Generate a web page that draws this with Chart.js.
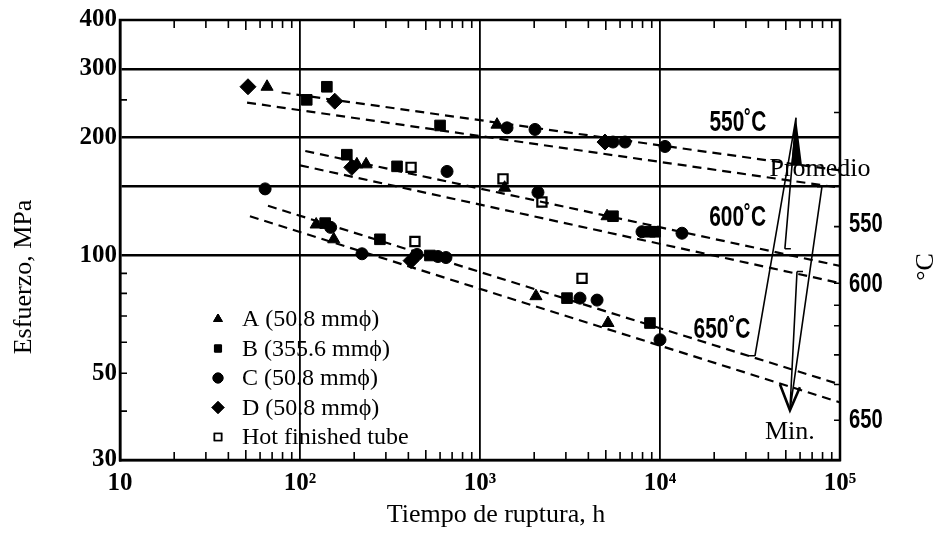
<!DOCTYPE html>
<html>
<head>
<meta charset="utf-8">
<script src="https://cdn.jsdelivr.net/npm/chart.js@4.4.1/dist/chart.umd.min.js"></script>
<style>
html, body { margin: 0; padding: 0; background: #fff; }
canvas { display: block; }
</style>
</head>
<body>
<canvas id="myChart" width="936" height="533"></canvas>
<script>
// rupture time (h) / stress (MPa)
const aTime   = [65.6, 1243, 207, 233, 1370, 5080, 123, 154, 424, 2046, 5140];
const aStress = [270, 216, 171, 171, 149, 126, 120, 110, 99.4, 78.7, 67.2];

const bTime   = [109, 141, 600, 182, 346, 5480, 8795, 9380, 138, 278, 527, 3043, 8795];
const bStress = [250, 270, 215, 181, 169, 126, 115, 115, 121, 110, 100, 77.8, 67.2];

const cTime   = [1413, 2021, 5480, 6393, 10660, 64, 656, 2099, 7943, 13245, 148, 221, 447, 584, 647, 3594, 4470, 10000];
const cStress = [212, 210, 195, 195, 190, 148, 164, 145, 115, 114, 118, 101, 100.6, 99.4, 98.8, 77.8, 76.9, 60.9];

const dTime   = [51.4, 156, 4946, 194, 414];
const dStress = [270, 248, 195, 168, 97];

const hotTime   = [414, 1342, 2208, 435, 3688];
const hotStress = [168, 157, 137, 108.6, 87.4];

const seriesNames = ['A (50.8 mm\u03d5)', 'B (355.6 mm\u03d5)', 'C (50.8 mm\u03d5)', 'D (50.8 mm\u03d5)', 'Hot finished tube'];

// dashed trend lines: [start time, end time] and [start stress, end stress]
const curveNames  = ['550 prom', '550 min', '600 prom', '600 min', '650 prom', '650 min'];
const curveTime   = [[79, 1e5], [50.8, 1e5], [107, 1e5], [100, 1e5], [66.4, 1e5], [52.7, 1e5]];
const curveStress = [[261, 165], [246, 149], [185, 94], [170, 85], [134, 46.8], [126, 42.1]];

const curveLabels = ['550\u02daC', '600\u02daC', '650\u02daC'];
const curveLabelAt = [[27100, 218], [27000, 125], [22100, 64.5]];

// arrows "Promedio" and "Min." (time, stress)
const avgTip = [57000, 225];
const avgTails = [[33700, 55.4], [49400, 104]];
const minTip = [52700, 40.2];
const minTails = [[79400, 150], [57700, 91]];

// temperature scale on the right edge
const tempLabels = ['550', '600', '650'];
const tempLabelStress = [120, 84.5, 38];
const tempTickStress = [232, 118.5, 84.9, 74.6, 66.1, 55.7, 46.8, 37.9];

const xTicks = [];
[10, 100, 1000, 10000].forEach(d => { for (let k = 1; k < 10; k++) xTicks.push(d * k); });
xTicks.push(100000);
const xLabels = { 10: '10', 100: '10\u00b2', 1000: '10\u00b3', 10000: '10\u2074', 100000: '10\u2075' };
const yTicks = [30, 40, 50, 60, 70, 80, 90, 100, 150, 200, 250, 300, 400];
const yLabels = [30, 50, 100, 200, 300, 400];
const xGrid = [100, 1000, 10000];
const yGrid = [100, 150, 200, 300];

const serif = "'Liberation Serif', 'DejaVu Serif', serif";
const sans = "'Liberation Sans', Arimo, sans-serif";

const pts = (t, s) => t.map((v, i) => ({ x: v, y: s[i] }));

const marks = [
  { label: seriesNames[0], data: pts(aTime, aStress), pointStyle: 'triangle', pointRadius: 7, backgroundColor: '#000' },
  { label: seriesNames[1], data: pts(bTime, bStress), pointStyle: 'rect', pointRadius: 7.5, backgroundColor: '#000' },
  { label: seriesNames[2], data: pts(cTime, cStress), pointStyle: 'circle', pointRadius: 6, backgroundColor: '#000' },
  { label: seriesNames[3], data: pts(dTime, dStress), pointStyle: 'rectRot', pointRadius: 8, backgroundColor: '#000' },
  { label: seriesNames[4], data: pts(hotTime, hotStress), pointStyle: 'rect', pointRadius: 6.5, backgroundColor: '#fff', borderWidth: 2.2 }
].map(d => Object.assign({ borderColor: '#000', borderWidth: 1, showLine: false }, d));

const lines = curveNames.map((n, i) => ({
  label: n,
  data: pts(curveTime[i], curveStress[i]),
  showLine: true,
  borderColor: '#000',
  borderWidth: 2.2,
  borderDash: [9, 6],
  pointRadius: 0,
  fill: false
}));

// condensed bold text, like the typeset labels of the original
function narrowText(ctx, s, px, py, size, align) {
  ctx.save();
  ctx.font = 'bold ' + size + 'px ' + sans;
  ctx.textBaseline = 'middle';
  ctx.textAlign = 'left';
  const k = 0.72;
  const w = ctx.measureText(s).width * k;
  const x0 = align === 'center' ? px - w / 2 : px;
  ctx.translate(x0, py);
  ctx.scale(k, 1);
  ctx.fillText(s, 0, 0);
  ctx.restore();
}

const decorations = {
  id: 'decorations',
  beforeDatasetsDraw(chart) {
    const { ctx, chartArea: a, scales: { x, y } } = chart;
    ctx.save();
    ctx.strokeStyle = '#000';
    ctx.lineWidth = 2.5;
    ctx.strokeRect(a.left, a.top, a.right - a.left, a.bottom - a.top);

    // inward minor ticks
    ctx.lineWidth = 1.6;
    ctx.beginPath();
    xTicks.forEach(v => {
      if (xLabels[v]) return;
      const px = x.getPixelForValue(v);
      const len = (String(v)[0] === '5') ? 10 : 8;
      ctx.moveTo(px, a.top); ctx.lineTo(px, a.top + len);
      ctx.moveTo(px, a.bottom); ctx.lineTo(px, a.bottom - len);
    });
    yTicks.forEach(v => {
      if (yGrid.includes(v) || v === 30 || v === 400) return;
      const py = y.getPixelForValue(v);
      ctx.moveTo(a.left, py); ctx.lineTo(a.left + 7, py);
    });
    tempTickStress.forEach(v => {
      const py = y.getPixelForValue(v);
      ctx.moveTo(a.right, py); ctx.lineTo(a.right - 6, py);
    });
    ctx.stroke();
    ctx.restore();
  },
  afterDatasetsDraw(chart) {
    const { ctx, chartArea: a, scales: { x, y } } = chart;
    const P = p => [x.getPixelForValue(p[0]), y.getPixelForValue(p[1])];
    ctx.save();
    ctx.strokeStyle = '#000';
    ctx.fillStyle = '#000';

    // Promedio arrow
    const at = P(avgTip);
    ctx.lineWidth = 1.6;
    ctx.beginPath();
    avgTails.forEach((t, i) => {
      const p = P(t);
      ctx.moveTo(p[0], p[1]); ctx.lineTo(at[0], at[1]);
      ctx.moveTo(p[0], p[1]); ctx.lineTo(p[0] + (i === 0 ? -6 : 6), p[1]);
    });
    ctx.stroke();
    ctx.beginPath();
    ctx.moveTo(at[0], at[1]);
    ctx.lineTo(at[0] - 5, at[1] + 48);
    ctx.lineTo(at[0] + 6, at[1] + 48);
    ctx.closePath();
    ctx.fill();

    // Min. arrow
    const mt = P(minTip);
    ctx.beginPath();
    minTails.forEach((t, i) => {
      const p = P(t);
      ctx.moveTo(p[0], p[1]); ctx.lineTo(mt[0], mt[1]);
      ctx.moveTo(p[0], p[1]); ctx.lineTo(p[0] + (i === 0 ? -5 : 6), p[1]);
    });
    ctx.stroke();
    ctx.lineWidth = 2.6;
    ctx.beginPath();
    ctx.moveTo(mt[0] - 10, mt[1] - 26);
    ctx.lineTo(mt[0], mt[1]);
    ctx.lineTo(mt[0] + 10, mt[1] - 23);
    ctx.stroke();

    // curve labels
    curveLabels.forEach((s, i) => {
      const p = P(curveLabelAt[i]);
      narrowText(ctx, s, p[0], p[1], 29, 'center');
    });

    ctx.textAlign = 'center';
    ctx.textBaseline = 'middle';
    ctx.font = '26px ' + serif;
    ctx.fillText('Promedio', x.getPixelForValue(1e5) - 20, y.getPixelForValue(165) - 1);
    ctx.fillText('Min.', P(minTip)[0], P(minTip)[1] + 22);

    // temperature labels, right side
    tempLabels.forEach((s, i) => {
      narrowText(ctx, s, a.right + 9, y.getPixelForValue(tempLabelStress[i]), 28, 'left');
    });
    ctx.font = '26px ' + serif;
    ctx.save();
    ctx.translate(926, 267);
    ctx.rotate(-Math.PI / 2);
    ctx.textAlign = 'center';
    ctx.fillText('\u00b0C', 0, 0);
    ctx.restore();

    // axis titles
    ctx.textAlign = 'center';
    ctx.fillText('Tiempo de ruptura, h', 496, 515);
    ctx.save();
    ctx.translate(24, 277);
    ctx.rotate(-Math.PI / 2);
    ctx.fillText('Esfuerzo, MPa', 0, 0);
    ctx.restore();

    // legend
    const styles = ['triangle', 'rect', 'circle', 'rectRot', 'rect'];
    ctx.font = '24px ' + serif;
    ctx.textAlign = 'left';
    seriesNames.forEach((s, i) => {
      const yy = a.bottom - 141 + i * 29.5;
      ctx.fillStyle = i === 4 ? '#fff' : '#000';
      ctx.lineWidth = i === 4 ? 1.6 : 1;
      Chart.helpers.drawPoint(ctx, { pointStyle: styles[i], radius: i === 3 ? 6 : 5, rotation: 0, borderWidth: 1 }, 218, yy);
      ctx.fill();
      ctx.stroke();
      ctx.fillStyle = '#000';
      ctx.fillText(s, 242, yy + 1);
    });
    ctx.restore();
  }
};

new Chart(document.getElementById('myChart'), {
  type: 'scatter',
  data: { datasets: [...lines, ...marks] },
  options: {
    responsive: false,
    animation: false,
    layout: { padding: { top: 20, right: 96, left: 0, bottom: 0 } },
    plugins: { legend: { display: false }, tooltip: { enabled: false } },
    scales: {
      x: {
        type: 'logarithmic',
        min: 10,
        max: 100000,
        afterBuildTicks: s => { s.ticks = xTicks.map(v => ({ value: v })); },
        afterFit: s => { s.height = 73; },
        ticks: {
          autoSkip: false,
          maxRotation: 0,
          padding: 9,
          color: '#000',
          font: { size: 25, weight: 'bold', family: serif },
          callback: v => xLabels[v] || ''
        },
        grid: {
          drawTicks: false,
          color: c => xGrid.includes(c.tick && c.tick.value) ? '#000' : 'rgba(0,0,0,0)',
          lineWidth: 1.8
        },
        border: { display: true, color: '#000', width: 2.5 }
      },
      y: {
        type: 'logarithmic',
        min: 30,
        max: 400,
        afterBuildTicks: s => { s.ticks = yTicks.map(v => ({ value: v })); },
        afterFit: s => { s.width = 120; },
        ticks: {
          autoSkip: false,
          padding: 3,
          color: '#000',
          font: { size: 25, weight: 'bold', family: serif },
          callback: v => yLabels.includes(v) ? String(v) : ''
        },
        grid: {
          drawTicks: false,
          color: c => yGrid.includes(c.tick && c.tick.value) ? '#000' : 'rgba(0,0,0,0)',
          lineWidth: 2.6
        },
        border: { display: true, color: '#000', width: 2.5 }
      }
    }
  },
  plugins: [decorations]
});
</script>
</body>
</html>
